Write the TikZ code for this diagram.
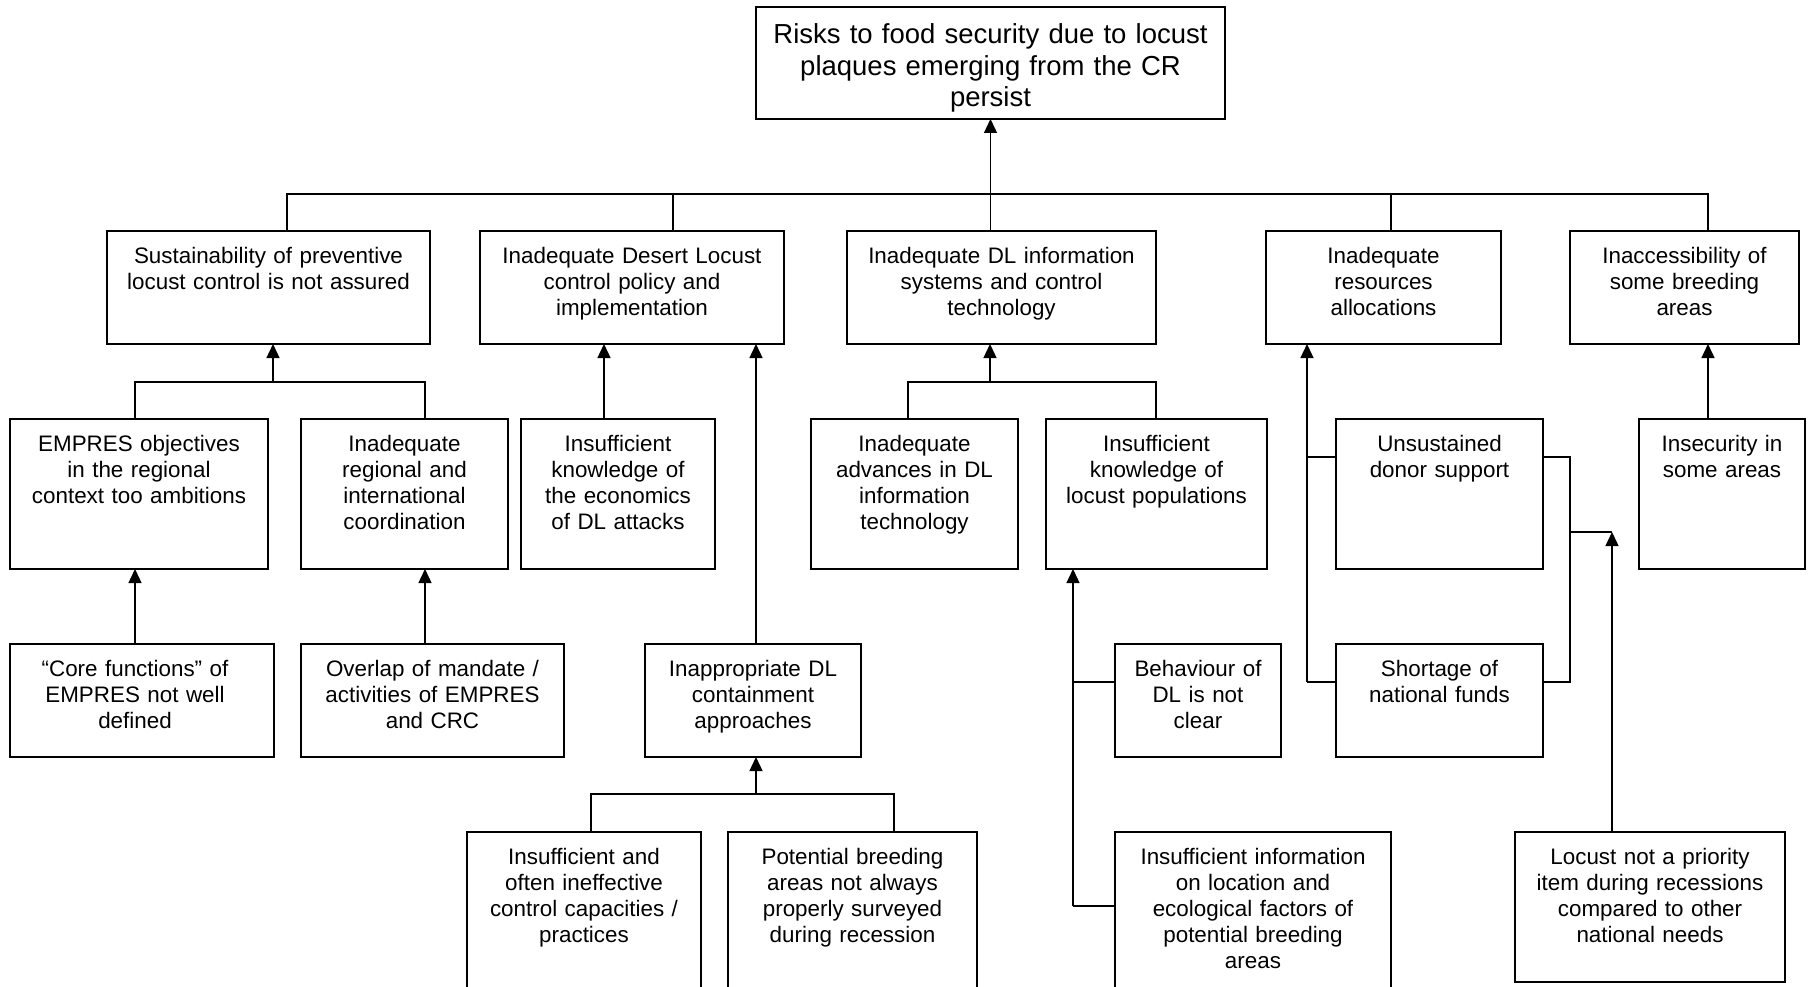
\documentclass[tikz,border=0pt]{standalone}
\usepackage{fontspec}
\setmainfont{Liberation Sans}
\usetikzlibrary{arrows.meta,calc}
\tikzset{
  box/.style={draw=black, line width=1.4pt, inner sep=0pt, outer sep=0pt, fill=white},
  txt/.style={inner sep=0pt, outer sep=0pt, align=center, font=\fontsize{22.4}{26}\selectfont},
  bigtxt/.style={inner sep=0pt, outer sep=0pt, align=center, font=\fontsize{27.5}{31.5}\selectfont},
  ln/.style={draw=black, line width=1.3pt},
  arr/.style={draw=black, line width=1.3pt, -{Triangle[length=14pt,width=13pt]}},
}
\newcommand\bx[8][txt]{%
  \pgfmathsetlengthmacro\bxw{(#5-#3)*1pt}%
  \pgfmathsetlengthmacro\bxh{(#6-#4)*1pt}%
  \pgfmathsetlengthmacro\bxt{(#5-#3-4)*1pt}%
  \node[box, minimum width=\bxw, minimum height=\bxh, anchor=north west] (#2) at (#3,#4) {};
  \node[#1, text width=\bxt, anchor=base] (#2-t) at ([yshift=-#7pt]#2.north) {#8};
}
\begin{document}
\begin{tikzpicture}[x=1pt,y=-1pt]
\fill[white] (0,0) rectangle (1810,987);
\useasboundingbox (0,0) rectangle (1810,987);
\clip (0,0) rectangle (1810,987);

\coordinate (t1) at (287,194); \coordinate (t2) at (673,194);
\coordinate (t4) at (1391,194); \coordinate (t5) at (1708,194);

% boxes
\bx[bigtxt]{top}{756}{7}{1225}{119}{37}{Risks to food security due to locust\\plaques emerging from the CR\\persist}
\bx{A}{107}{231}{430}{344}{32}{Sustainability of preventive\\locust control is not assured}
\bx{B}{480}{231}{784}{344}{32}{Inadequate Desert Locust\\control policy and\\implementation}
\bx{C}{847}{231}{1156}{344}{32}{Inadequate DL information\\systems and control\\technology}
\bx{D}{1266}{231}{1501}{344}{32}{Inadequate\\resources\\allocations}
\bx{E}{1570}{231}{1799}{344}{32}{Inaccessibility of\\some breeding\\areas}

\bx{empres}{10}{419}{268}{569}{32}{EMPRES objectives\\in the regional\\context too ambitions}
\bx{regcoord}{301}{419}{508}{569}{32}{Inadequate\\regional and\\international\\coordination}
\bx{econ}{521}{419}{715}{569}{32}{Insufficient\\knowledge of\\the economics\\of DL attacks}
\bx{advances}{811}{419}{1018}{569}{32}{Inadequate\\advances in DL\\information\\technology}
\bx{locustpop}{1046}{419}{1267}{569}{32}{Insufficient\\knowledge of\\locust populations}
\bx{donor}{1336}{419}{1543}{569}{32}{Unsustained\\donor support}
\bx{insecurity}{1639}{419}{1805}{569}{32}{Insecurity in\\some areas}

\bx{core}{10}{644}{274}{757}{32}{\hspace*{-14pt}“Core functions” of\\\hspace*{-14pt}EMPRES not well\\\hspace*{-14pt}defined}
\bx{overlap}{301}{644}{564}{757}{32}{Overlap of mandate /\\activities of EMPRES\\and CRC}
\bx{inapprop}{645}{644}{861}{757}{32}{Inappropriate DL\\containment\\approaches}
\bx{behaviour}{1115}{644}{1281}{757}{32}{Behaviour of\\DL is not\\clear}
\bx{shortage}{1336}{644}{1543}{757}{32}{Shortage of\\national funds}

\bx{ineff}{467}{832}{701}{992}{32}{Insufficient and\\often ineffective\\control capacities /\\practices}
\bx{potential}{728}{832}{977}{992}{32}{Potential breeding\\areas not always\\properly surveyed\\during recession}
\bx{insinfo}{1115}{832}{1391}{992}{32}{Insufficient information\\on location and\\ecological factors of\\potential breeding\\areas}
\bx{notpriority}{1515}{832}{1785}{982}{32}{Locust not a priority\\item during recessions\\compared to other\\national needs}

% top tree
\draw[ln] (t1 |- A.north) -- (t1) -- (t5) -- (t5 |- E.north);
\draw[ln] (t2) -- (t2 |- B.north);
\draw[ln] (t4) -- (t4 |- D.north);
\draw[arr] (top.south |- C.north) -- (top.south);

% A subtree
\coordinate (a0) at (273,382); \coordinate (a1) at (135,382); \coordinate (a2) at (425,382);
\draw[ln] (a1 |- empres.north) -- (a1) -- (a2) -- (a2 |- regcoord.north);
\draw[arr] (a0) -- (a0 |- A.south);
\draw[arr] (a1 |- core.north) -- (a1 |- empres.south);
\draw[arr] (a2 |- overlap.north) -- (a2 |- regcoord.south);

% B subtree
\coordinate (b1) at (604,382); \coordinate (b2) at (756,382);
\draw[arr] (b1 |- econ.north) -- (b1 |- B.south);
\draw[arr] (b2 |- inapprop.north) -- (b2 |- B.south);
\coordinate (c0) at (756,794); \coordinate (c1) at (591,794); \coordinate (c2) at (894,794);
\draw[ln] (c1 |- ineff.north) -- (c1) -- (c2) -- (c2 |- potential.north);
\draw[arr] (c0) -- (c0 |- inapprop.south);

% C subtree
\coordinate (d0) at (990,382); \coordinate (d1) at (908,382); \coordinate (d2) at (1156,382);
\draw[ln] (d1 |- advances.north) -- (d1) -- (d2) -- (d2 |- locustpop.north);
\draw[arr] (d0) -- (d0 |- C.south);
\coordinate (e0) at (1073,906); \coordinate (e1) at (1073,682);
\draw[arr] (e0) -- (e0 |- locustpop.south);
\draw[ln] (e0) -- (e0 -| insinfo.west);
\draw[ln] (e1) -- (e1 -| behaviour.west);

% D subtree
\coordinate (f0) at (1307,682); \coordinate (f1) at (1307,457);
\draw[arr] (f0) -- (f0 |- D.south);
\draw[ln] (f1) -- (f1 -| donor.west);
\draw[ln] (f0) -- (f0 -| shortage.west);
\coordinate (g1) at (1570,457); \coordinate (g2) at (1570,682);
\coordinate (g0) at (1570,532); \coordinate (g3) at (1612,532);
\draw[ln] (g1 -| donor.east) -- (g1) -- (g2) -- (g2 -| shortage.east);
\draw[ln] (g0) -- (g3);
\draw[arr] (g3 |- notpriority.north) -- (g3);

% E subtree
\coordinate (h0) at (1708,382);
\draw[arr] (h0 |- insecurity.north) -- (h0 |- E.south);
\end{tikzpicture}
\end{document}
